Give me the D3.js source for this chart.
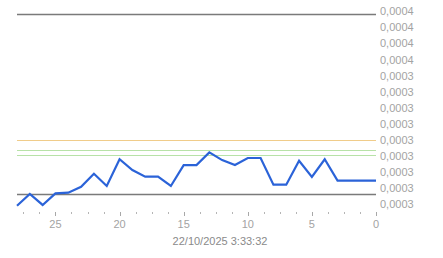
<!DOCTYPE html>
<html>
<head>
<meta charset="utf-8">
<script src="https://cdn.jsdelivr.net/npm/d3@7"></script>
<style>
html,body{margin:0;padding:0;background:#fff;}
svg{display:block;font-family:"Liberation Sans",Arial,sans-serif;}
</style>
</head>
<body>
<svg id="c" width="443" height="258"></svg>
<script>
// Days ago (x) and price values
const daysAgo = [28,27,26,25,24,23,22,21,20,19,18,17,16,15,14,13,12,11,10,9,8,7,6,5,4,3,2,1,0];
const prices = [0.0002591,0.0002664,0.0002596,0.0002668,0.0002672,0.0002709,0.0002790,0.0002714,0.0002880,0.0002813,0.0002772,0.0002772,0.0002714,0.0002844,0.0002844,0.0002923,0.0002875,0.0002844,0.0002888,0.0002888,0.0002722,0.0002722,0.0002871,0.0002770,0.0002880,0.0002747,0.0002747,0.0002747,0.0002747];
// Horizontal reference levels
const refValues = [0.0003783, 0.0002998, 0.0002936, 0.0002905, 0.0002662];
const refColors = ["#7a7a7a", "#f0cc8a", "#b8e2a8", "#b8e2a8", "#7a7a7a"];
// Y tick values and their displayed labels
const yTickValues = [0.00038,0.00037,0.00036,0.00035,0.00034,0.00033,0.00032,0.00031,0.00030,0.00029,0.00028,0.00027,0.00026];
const yTickLabels = ["0,0004","0,0004","0,0004","0,0004","0,0003","0,0003","0,0003","0,0003","0,0003","0,0003","0,0003","0,0003","0,0003"];
const xMajorTicks = [25,20,15,10,5,0];
const xMinorTicks = [27.5,26.25,23.75,22.5,21.25,18.75,17.5,16.25,13.75,12.5,11.25,8.75,7.5,6.25,3.75,2.5,1.25];
const xTitle = "22/10/2025 3:33:32";

const svg = d3.select("#c");
const x = d3.scaleLinear().domain([28, 0]).range([17, 376]);
const y = d3.scaleLinear().domain([0.00026, 0.00038]).range([204.3, 11.3]);

// reference lines
svg.append("g").selectAll("line").data(refValues).join("line")
  .attr("x1", x(28)).attr("x2", x(0))
  .attr("y1", d => Math.round(y(d)) + 0.5).attr("y2", d => Math.round(y(d)) + 0.5)
  .attr("stroke", (d, i) => refColors[i]).attr("stroke-width", (d,i)=> (i===0||i===4)?1.3:1.2);

// y labels
svg.append("g").selectAll("text").data(yTickValues).join("text")
  .attr("x", 380).attr("y", d => y(d) + 4)
  .attr("font-size", 11).attr("fill", "#a3a3a3")
  .text((d, i) => yTickLabels[i]);

// x axis ticks
svg.append("g").selectAll("line").data(xMinorTicks).join("line")
  .attr("x1", d => Math.round(x(d)) + 0.5).attr("x2", d => Math.round(x(d)) + 0.5)
  .attr("y1", 212).attr("y2", 214).attr("stroke", "#b5b5b5");
svg.append("g").selectAll("line").data(xMajorTicks).join("line")
  .attr("x1", d => Math.round(x(d)) + 0.5).attr("x2", d => Math.round(x(d)) + 0.5)
  .attr("y1", 212).attr("y2", 216).attr("stroke", "#a8a8a8");
svg.append("g").selectAll("text").data(xMajorTicks).join("text")
  .attr("x", d => x(d)).attr("y", 227.5).attr("text-anchor", "middle")
  .attr("font-size", 11).attr("fill", "#a3a3a3").text(d => d);

svg.append("text").attr("x", 220).attr("y", 245).attr("text-anchor", "middle")
  .attr("font-size", 11).attr("fill", "#8a8a8a").text(xTitle);

// price line
const line = d3.line().x((d, i) => x(daysAgo[i])).y(d => y(d));
svg.append("path").datum(prices).attr("d", line)
  .attr("fill", "none").attr("stroke", "#2b63d8").attr("stroke-width", 2.2)
  .attr("stroke-linejoin", "miter");
</script>
</body>
</html>
